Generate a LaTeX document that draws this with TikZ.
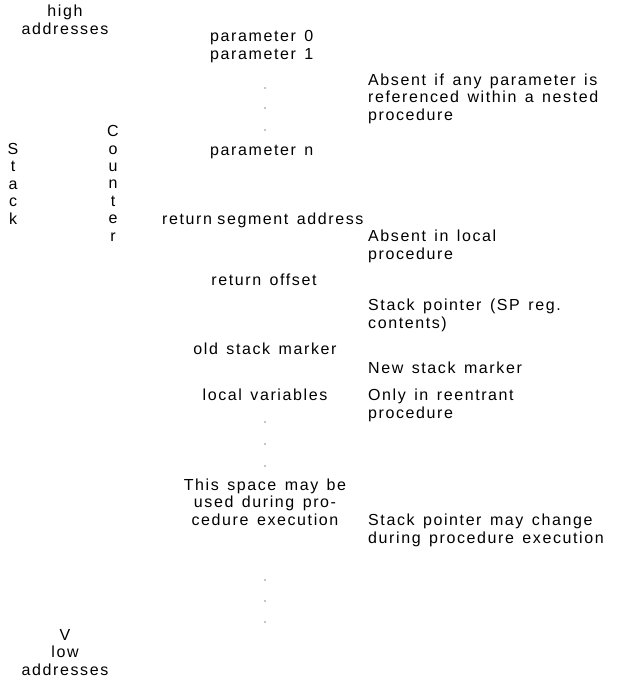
\documentclass[tikz,border=0pt]{standalone}
\usepackage{fontspec}
\setmainfont{Liberation Sans}[LetterSpace=10, WordSpace=1.4]
\usetikzlibrary{positioning}
\tikzset{
  txt/.style={inner sep=0pt, align=left, anchor=base west,
    font=\fontsize{16}{17.4}\selectfont},
  ctxt/.style={txt, align=center, anchor=base},
  dotmark/.style={fill=black!45, draw=none},
}
\begin{document}
\begin{tikzpicture}[x=1pt,y=-1pt]
			%%%%% START %%%%%
			\useasboundingbox (0,0) rectangle (620,697);
			
			% left margin labels (base = last line)
			\node[ctxt] (high) at (65, 34) {high\\addresses};
			\node[ctxt] (stack) at (13, 224) {S\\t\\a\\c\\k};
			\node[ctxt] (counter) at (113, 241) {C\\o\\u\\n\\t\\e\\r};
			\node[ctxt] (low) at (65, 675) {V\\low\\addresses};
			
			% stack contents
			\node[txt] (par) at (210, 59) {parameter 0\\parameter 1};
			\node[txt] (parn) at (210, 155) {parameter n};
			\node[txt] (retseg) at (162, 224) {return\hspace{-3pt} segment address};
			\node[ctxt] (retoff) at (264, 285) {return offset};
			\node[ctxt] (oldmark) at (265, 354) {old stack marker};
			\node[ctxt] (locvar) at (265, 400) {local variables};
			\node[ctxt] (space) at (265, 525) {This space may be\\used during pro-\\cedure execution};
			
			% comments
			\node[txt] (absent) at (368, 120) {Absent if any parameter is\\referenced within a nested\\procedure};
			\node[txt] (local) at (368, 259) {Absent in local\\procedure};
			\node[txt] (sp) at (368, 328) {Stack pointer (SP reg.\\contents)};
			\node[txt] (newmark) at (368, 373) {New stack marker};
			\node[txt] (reent) at (368, 418) {Only in reentrant\\procedure};
			\node[txt] (change) at (368, 543) {Stack pointer may change\\during procedure execution};
			
			% dots
			\foreach \y in {88, 108, 130, 422, 444, 466, 580, 601, 622}
				\fill[dotmark] (265, \y) circle (0.9);
			
			%%%%% END %%%%%
\end{tikzpicture}
\end{document}
